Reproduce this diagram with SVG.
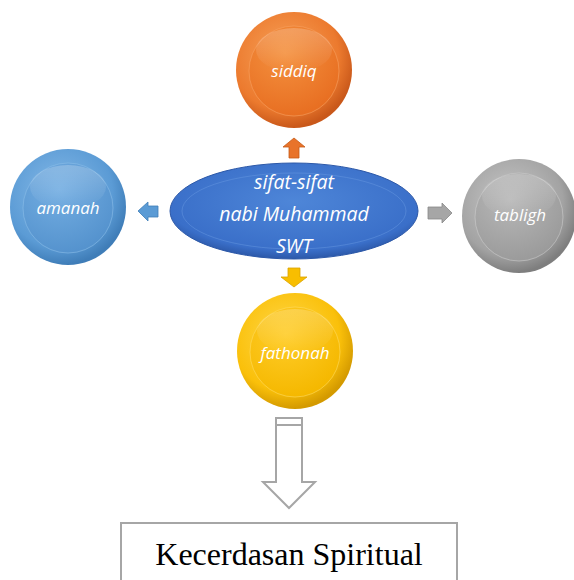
<svg xmlns="http://www.w3.org/2000/svg" width="574" height="580" viewBox="0 0 574 580">
<defs>
<style>
.lbl{font-family:"Open Sans","Noto Sans",sans-serif;font-style:italic;fill:#fff;text-anchor:middle}
.small{font-size:17px}
.big{font-size:19.5px}
.box{font-family:"Liberation Serif","Times New Roman",serif;font-size:32px;fill:#000;text-anchor:middle}
</style>
<radialGradient id="gOr" cx="42%" cy="38%" r="62%"><stop offset="0" stop-color="#F7A25A"/><stop offset="0.75" stop-color="#EC7A2E"/><stop offset="1" stop-color="#C9581A"/></radialGradient>
<radialGradient id="gOrIn" cx="40%" cy="30%" r="70%"><stop offset="0" stop-color="#F4913F"/><stop offset="1" stop-color="#E86F22"/></radialGradient>
<radialGradient id="gBl" cx="42%" cy="38%" r="62%"><stop offset="0" stop-color="#86BAE8"/><stop offset="0.75" stop-color="#5B9BD5"/><stop offset="1" stop-color="#3F7DB8"/></radialGradient>
<radialGradient id="gBlIn" cx="40%" cy="30%" r="70%"><stop offset="0" stop-color="#74AEE2"/><stop offset="1" stop-color="#5593CE"/></radialGradient>
<radialGradient id="gGr" cx="42%" cy="38%" r="62%"><stop offset="0" stop-color="#C8C8C8"/><stop offset="0.75" stop-color="#A3A3A3"/><stop offset="1" stop-color="#7E7E7E"/></radialGradient>
<radialGradient id="gGrIn" cx="40%" cy="30%" r="70%"><stop offset="0" stop-color="#B8B8B8"/><stop offset="1" stop-color="#9B9B9B"/></radialGradient>
<radialGradient id="gYe" cx="42%" cy="38%" r="62%"><stop offset="0" stop-color="#FFD84A"/><stop offset="0.75" stop-color="#FAC00A"/><stop offset="1" stop-color="#D49A00"/></radialGradient>
<radialGradient id="gYeIn" cx="40%" cy="30%" r="70%"><stop offset="0" stop-color="#FFCD2A"/><stop offset="1" stop-color="#F5B800"/></radialGradient>
<radialGradient id="gEl" cx="50%" cy="40%" r="60%"><stop offset="0" stop-color="#4E86D8"/><stop offset="0.85" stop-color="#3A6FC9"/><stop offset="1" stop-color="#2C58A8"/></radialGradient>
<linearGradient id="hl" x1="0" y1="0" x2="0" y2="1"><stop offset="0" stop-color="#fff" stop-opacity="0.22"/><stop offset="1" stop-color="#fff" stop-opacity="0"/></linearGradient>
</defs>
<g id="connectors">
<path d="M294,138 L305,147 L299,147 L299,158 L289,158 L289,147 L283,147 Z" fill="#E8732A" stroke="#C65B17" stroke-width="0.8"/>
<path d="M294,287 L307,277 L300,277 L300,268 L288,268 L288,277 L281,277 Z" fill="#F8BE00" stroke="#D9A200" stroke-width="0.8"/>
<path d="M138,211 L148,202 L148,206 L158,206 L158,217 L148,217 L148,221 Z" fill="#5B9BD5" stroke="#3F7DB8" stroke-width="0.8"/>
<path d="M452,213 L442,203 L442,207 L428,207 L428,219 L442,219 L442,223 Z" fill="#A6A6A6" stroke="#888" stroke-width="0.8"/>
<path d="M276,425 L276,482 L263,482 L289,508 L315,482 L302,482 L302,425 Z" fill="#fff" stroke="#A6A6A6" stroke-width="2"/>
<rect x="276" y="418" width="26" height="7" fill="#fff" stroke="#A6A6A6" stroke-width="2"/>
</g>
<g id="siddiq">
<circle cx="294" cy="70" r="58" fill="url(#gOr)"/>
<circle cx="294" cy="71" r="45" fill="url(#gOrIn)" stroke="#F7A464" stroke-width="0.8" stroke-opacity="0.7"/>
<ellipse cx="294" cy="50" rx="38" ry="22" fill="url(#hl)"/>
<text class="lbl small" x="294" y="77">siddiq</text>
</g>
<g id="amanah">
<circle cx="68" cy="207" r="58" fill="url(#gBl)"/>
<circle cx="68" cy="208" r="45" fill="url(#gBlIn)" stroke="#8EC0EA" stroke-width="0.8" stroke-opacity="0.7"/>
<ellipse cx="68" cy="187" rx="38" ry="22" fill="url(#hl)"/>
<text class="lbl small" x="68" y="214">amanah</text>
</g>
<g id="tabligh">
<circle cx="519" cy="216" r="57" fill="url(#gGr)"/>
<circle cx="519" cy="217" r="44" fill="url(#gGrIn)" stroke="#CFCFCF" stroke-width="0.8" stroke-opacity="0.7"/>
<ellipse cx="519" cy="196" rx="37" ry="22" fill="url(#hl)"/>
<text class="lbl small" x="520" y="221">tabligh</text>
</g>
<g id="fathonah">
<circle cx="295" cy="351" r="58" fill="url(#gYe)"/>
<circle cx="295" cy="352" r="45" fill="url(#gYeIn)" stroke="#FFDD66" stroke-width="0.8" stroke-opacity="0.7"/>
<ellipse cx="295" cy="331" rx="38" ry="22" fill="url(#hl)"/>
<text class="lbl small" x="295" y="359">fathonah</text>
</g>
<g id="center">
<ellipse cx="294" cy="211" rx="124" ry="48" fill="url(#gEl)" stroke="#2C58A8" stroke-width="1"/>
<ellipse cx="294" cy="211" rx="112" ry="38" fill="none" stroke="#6B9BE3" stroke-width="1" opacity="0.45"/>
<text class="lbl big" x="294" y="189">sifat-sifat</text>
<text class="lbl big" x="294" y="221">nabi Muhammad</text>
<text class="lbl big" x="294" y="253">SWT</text>
</g>
<g id="kecerdasan">
<rect x="121" y="523" width="336" height="70" fill="#fff" stroke="#A6A6A6" stroke-width="2"/>
<text class="box" x="289" y="565">Kecerdasan Spiritual</text>
</g>
</svg>
